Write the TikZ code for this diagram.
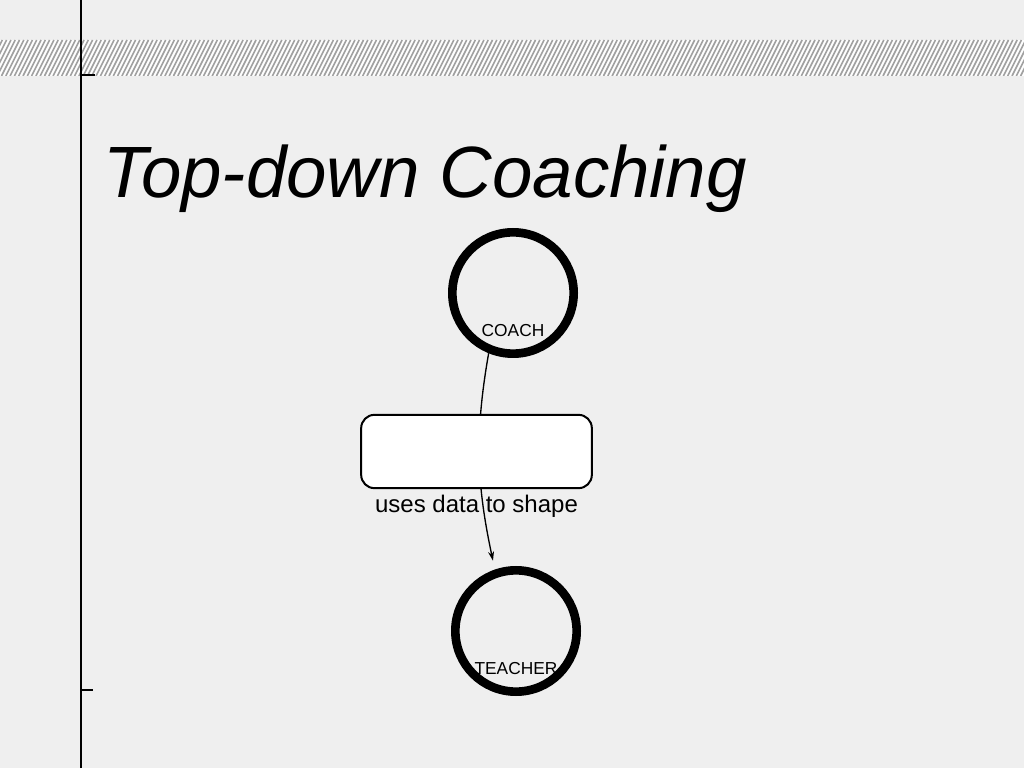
\documentclass[tikz,border=0pt]{standalone}
\usepackage{fontspec}
\setmainfont{Liberation Sans}
\usetikzlibrary{arrows.meta}
\definecolor{paper}{RGB}{239,239,239}
\definecolor{hatch}{RGB}{160,160,160}

\begin{document}
\begin{tikzpicture}[x=0.75pt,y=0.75pt,
		actor/.style={circle,draw=black,line width=6.5pt,minimum size=91pt,inner sep=0pt},
		actorname/.style={inner sep=0pt,anchor=base,font=\fontsize{13pt}{15pt}\selectfont},
		stepbox/.style={rectangle,draw=black,line width=1.5pt,fill=white,rounded corners=10pt,minimum width=173pt,minimum height=55pt,inner sep=0pt},
		linklabel/.style={inner sep=0pt,anchor=base,font=\fontsize{18pt}{21pt}\selectfont},
		link/.style={line width=1pt,-{Stealth[length=7pt,width=4.5pt]}},
		rule/.style={line width=2pt}]
		\useasboundingbox (0,0) rectangle (1024,768);
		\fill[paper] (0,0) rectangle (1024,768);
		\begin{scope}
			\clip (0,692) rectangle (1024,728);
			\fill[white!92!paper] (0,692) rectangle (1024,728);
			\foreach \x in {-20,-15.7,...,1030}
				\draw[hatch,line width=1.2pt] (\x,692) -- (\x+18,728);
		\end{scope}
		\draw[rule] (81,0) -- (81,768);
		\draw[rule] (81,693) -- (95,693);
		\draw[rule] (81,78) -- (93,78);
		\node[anchor=base west,inner sep=0pt,font=\itshape\fontsize{54.5pt}{60pt}\selectfont] (title) at (103,570) {Top-down Coaching};
		\node[actor] (coach) at (513,475) {};
		\node[actorname] (coachname) at ([yshift=15.75pt]coach.south) {COACH};
		\node[actor] (teacher) at (516,137) {};
		\node[actorname] (teachername) at ([yshift=16.5pt]teacher.south) {TEACHER};
		\draw[link,shorten >=6.75pt] (coach.-112) to[out=-100,in=102] (teacher.109);
		\node[stepbox] (box) at (476.5,316.5) {};
		\node[linklabel] (boxlabel) at ([yshift=-17.25pt]box.south) {uses data to shape};
	\end{tikzpicture}
\end{document}
